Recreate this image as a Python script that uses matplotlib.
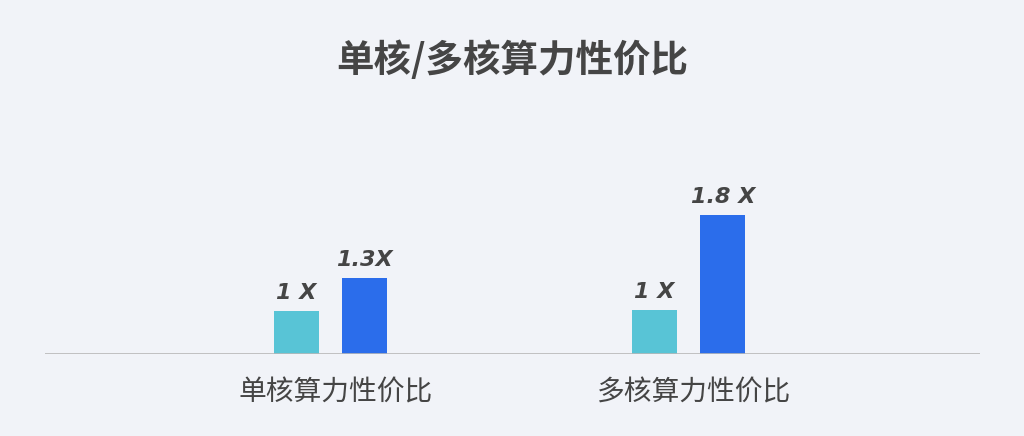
import matplotlib.pyplot as plt

plt.rcParams['font.family'] = ['Noto Sans CJK SC', 'DejaVu Sans']

# chart data
categories = ['单核算力性价比', '多核算力性价比']
value_labels = [['1 X', '1.3X'], ['1 X', '1.8 X']]
# bar heights as drawn in the picture (not to scale with the labels)
bar_heights = [[43, 76], [44, 139]]
series_colors = ['#58C4D6', '#2B6DEB']

bg = '#F1F3F8'
text_color = '#454545'

fig = plt.figure(figsize=(10.24, 4.36), dpi=100, facecolor=bg)
ax = fig.add_axes([45 / 1024, 1 - 354 / 436, 935 / 1024, 200 / 436])
ax.set_facecolor(bg)

x = list(range(len(categories)))
width = 0.126
offset = 0.0957

for s in range(2):
    xs = [i + (2 * s - 1) * offset for i in x]
    hs = [bar_heights[i][s] for i in x]
    ax.bar(xs, hs, width=width, color=series_colors[s], zorder=2)
    for xi, h, i in zip(xs, hs, x):
        ax.text(xi, h + 8, value_labels[i][s], ha='center', va='bottom',
                fontsize=16, style='italic', fontweight='semibold',
                color=text_color, family=['DejaVu Sans'])

ax.set_xlim(-0.797, 1.814)
ax.set_ylim(0, 200)
ax.axhline(0, color='#B8B8B8', lw=1.2, zorder=3)

for side in ['top', 'right', 'left', 'bottom']:
    ax.spines[side].set_visible(False)
ax.set_yticks([])
ax.set_xticks([i + 0.015 for i in x])
ax.set_xticklabels(categories, fontsize=20, style='italic', fontweight='medium',
                   color=text_color)
ax.tick_params(axis='x', length=0, pad=17)

fig.text(0.5, 1 - 60 / 436, '单核/多核算力性价比', ha='center', va='center',
         fontsize=27, fontweight='bold', style='italic', color=text_color)

fig.savefig('out.png', dpi=100, facecolor=bg)
